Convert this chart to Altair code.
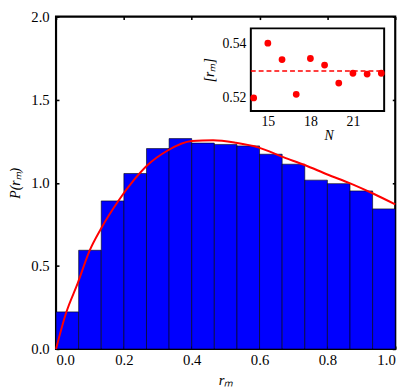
import altair as alt
import pandas as pd

# ---------------- data ----------------
BIN_EDGES = [0.0, 1/15, 2/15, 3/15, 4/15, 5/15, 6/15, 7/15, 8/15, 9/15,
             10/15, 11/15, 12/15, 13/15, 14/15, 1.0]
HEIGHTS = [0.223, 0.594, 0.891, 1.056, 1.206, 1.266, 1.239, 1.231, 1.222,
           1.172, 1.112, 1.016, 0.995, 0.951, 0.843]

CURVE_X = [0.0, 0.03, 0.064, 0.099, 0.132, 0.183, 0.231, 0.27, 0.328, 0.4,
           0.463, 0.53, 0.598, 0.67, 0.733, 0.8, 0.869, 0.936, 1.0]
CURVE_Y = [0.0, 0.219, 0.396, 0.592, 0.722, 0.889, 1.02, 1.107, 1.193, 1.251,
           1.256, 1.241, 1.212, 1.154, 1.107, 1.05, 0.995, 0.934, 0.870]

INSET_N = [14, 15, 16, 17, 18, 19, 20, 21, 22, 23]
INSET_RM = [0.520, 0.540, 0.534, 0.5213, 0.5344, 0.532, 0.5254, 0.529, 0.5287, 0.529]
INSET_MEAN = 0.5298

MAIN_X_TICKS = [0.0, 0.2, 0.4, 0.6, 0.8, 1.0]
MAIN_Y_TICKS = [0.0, 0.5, 1.0, 1.5, 2.0]
INSET_X_TICKS = [15, 18, 21]
INSET_Y_TICKS = [0.52, 0.54]
INSET_X_DOMAIN = [13.8, 23.2]
INSET_Y_DOMAIN = [0.5152, 0.5454]

# ---------------- layout ----------------
PAD_TOP = 5
W, H = 346, 339
T = 3          # tick length
IX0, IX1 = 198.7, 334.7          # inset pixel box inside the view
IY0, IY1 = 25 - 8 - PAD_TOP, 109.3 - 8 - PAD_TOP
FONT = "Liberation Serif"

hist_df = pd.DataFrame({"left": BIN_EDGES[:-1], "right": BIN_EDGES[1:], "h": HEIGHTS})
curve_df = pd.DataFrame({"x": CURVE_X, "y": CURVE_Y})
inset_df = pd.DataFrame({"N": INSET_N, "rm": INSET_RM})
frame_df = pd.DataFrame({"N": [INSET_X_DOMAIN[0]], "N2": [INSET_X_DOMAIN[1]],
                         "rm": [INSET_Y_DOMAIN[0]], "rm2": [INSET_Y_DOMAIN[1]]})
mean_df = pd.DataFrame({"N": [INSET_X_DOMAIN[0]], "N2": [INSET_X_DOMAIN[1]], "rm": [INSET_MEAN]})

x_main = alt.Scale(domain=[0, 1], nice=False, zero=False)
y_main = alt.Scale(domain=[0, 2], nice=False, zero=False)

common = dict(domain=False, grid=False, tickColor="black", tickWidth=1.6, tickSize=T,
              labelColor="black", labelFont=FONT, titleFont=FONT, titleColor="black",
              titleFontWeight="normal", titleFontStyle="italic")

ax_bottom = alt.Axis(orient="bottom", values=MAIN_X_TICKS, format=".1f", offset=-T,
                     labelPadding=4, labelFontSize=15, title="rₘ", titleFontSize=15,
                     titlePadding=5, **common)
ax_left = alt.Axis(orient="left", values=MAIN_Y_TICKS, format=".1f", offset=-T,
                   labelPadding=7, labelFontSize=15, title="P(rₘ)", titleFontSize=14,
                   titlePadding=8, **common)
ax_top = alt.Axis(orient="top", values=MAIN_X_TICKS, labels=False, offset=-T, title=None, **common)
ax_right = alt.Axis(orient="right", values=MAIN_Y_TICKS, labels=False, offset=-T, title=None, **common)

bars = alt.Chart(hist_df).mark_rect(color="#0000ff", stroke="#000000", strokeWidth=0.6).encode(
    x=alt.X("left:Q", scale=x_main, axis=ax_bottom),
    x2="right:Q",
    y=alt.Y("h:Q", scale=y_main, axis=ax_left),
    y2=alt.datum(0),
)
curve = alt.Chart(curve_df).mark_line(color="#ff0000", strokeWidth=2, interpolate="monotone").encode(
    x=alt.X("x:Q", scale=x_main, axis=ax_bottom),
    y=alt.Y("y:Q", scale=y_main, axis=ax_left),
)
main = alt.layer(bars, curve)

mirror = alt.Chart(hist_df).mark_point(opacity=0).encode(
    x=alt.X("left:Q", scale=x_main, axis=ax_top),
    y=alt.Y("h:Q", scale=y_main, axis=ax_right),
)

# ---------------- inset ----------------
x_in = alt.Scale(domain=INSET_X_DOMAIN, range=[IX0, IX1], nice=False, zero=False)
y_in = alt.Scale(domain=INSET_Y_DOMAIN, range=[IY1, IY0], nice=False, zero=False)

in_common = dict(common)
in_common["tickWidth"] = 1.3
in_bottom = alt.Axis(orient="bottom", values=INSET_X_TICKS, format="d", offset=IY1 - T - H,
                     labelPadding=4, labelFontSize=14, title="N", titleFontSize=14,
                     titlePadding=0, titleX=278, **in_common)
in_left = alt.Axis(orient="left", values=INSET_Y_TICKS, format=".2f", offset=-(IX0 + T),
                   labelPadding=5, labelFontSize=14, title="[rₘ]", titleFontSize=14,
                   titlePadding=6, **in_common)
in_top = alt.Axis(orient="top", values=INSET_X_TICKS, labels=False, offset=-(IY0 + T), title=None, **in_common)
in_right = alt.Axis(orient="right", values=INSET_Y_TICKS, labels=False, offset=IX1 - T - W, title=None, **in_common)

frame = alt.Chart(frame_df).mark_rect(fill="white", stroke="black", strokeWidth=2).encode(
    x=alt.X("N:Q", scale=x_in, axis=in_bottom), x2="N2:Q",
    y=alt.Y("rm:Q", scale=y_in, axis=in_left), y2="rm2:Q",
)
meanline = alt.Chart(mean_df).mark_rule(color="#ff0000", strokeWidth=1.6, strokeDash=[5, 3]).encode(
    x=alt.X("N:Q", scale=x_in, axis=in_bottom), x2="N2:Q",
    y=alt.Y("rm:Q", scale=y_in, axis=in_left),
)
points = alt.Chart(inset_df).mark_circle(color="#ff0000", size=48, opacity=1).encode(
    x=alt.X("N:Q", scale=x_in, axis=in_bottom),
    y=alt.Y("rm:Q", scale=y_in, axis=in_left),
)
inset = alt.layer(frame, meanline, points)

inset_mirror = alt.Chart(inset_df).mark_point(opacity=0).encode(
    x=alt.X("N:Q", scale=x_in, axis=in_top),
    y=alt.Y("rm:Q", scale=y_in, axis=in_right),
)

chart = alt.layer(main, mirror, inset, inset_mirror).resolve_scale(
    x="independent", y="independent"
).properties(
    width=W, height=H,
    autosize=alt.AutoSizeParams(type="none"),
    padding={"left": 49, "top": PAD_TOP, "right": 12, "bottom": 35},
).configure_view(stroke="black", strokeWidth=2.2)

chart.save("out.html", embed_options={"renderer": "svg", "actions": False})
